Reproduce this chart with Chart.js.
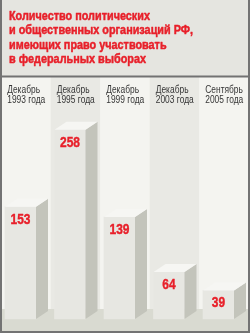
<!DOCTYPE html>
<html><head><meta charset="utf-8">
<script src="https://cdn.jsdelivr.net/npm/chart.js@4.4.0/dist/chart.umd.min.js"></script>
<style>html,body{margin:0;padding:0;background:#fff}#wrap{width:250px;height:333px;position:relative}canvas{display:block}</style>
</head><body><div id="wrap"><canvas id="c" width="250" height="333"></canvas></div>
<script>
const titleLines = ["Количество политических", "и общественных организаций РФ,", "имеющих право участвовать", "в федеральных выборах"];
const monthLabels = ["Декабрь", "Декабрь", "Декабрь", "Декабрь", "Сентябрь"];
const yearLabels = ["1993 года", "1995 года", "1999 года", "2003 года", "2005 года"];
const categories = ["Декабрь 1993 года", "Декабрь 1995 года", "Декабрь 1999 года", "Декабрь 2003 года", "Сентябрь 2005 года"];
const values = [153, 258, 139, 64, 39];

const FAMILY = '"Liberation Sans", Arial, sans-serif';
const RED = '#e8202a';
const DEPTH_X = 12, DEPTH_Y = 8;

function condensed(ctx, text, x, y, sx, align, strokeW) {
  ctx.save();
  const w = ctx.measureText(text).width * sx;
  let x0 = x;
  if (align === 'center') x0 = x - w / 2;
  ctx.textAlign = 'left';
  ctx.translate(x0, y);
  ctx.scale(sx, 1);
  ctx.fillText(text, 0, 0);
  if (strokeW) {
    ctx.strokeStyle = ctx.fillStyle;
    ctx.lineWidth = strokeW;
    ctx.lineJoin = 'round';
    ctx.strokeText(text, 0, 0);
  }
  ctx.restore();
}

const decor = {
  id: 'decor',
  beforeDatasetsDraw(chart) {
    const ctx = chart.ctx;
    const xs = chart.scales.x;
    const W = chart.width, H = chart.height;
    const base = chart.scales.y.getPixelForValue(0);
    ctx.save();
    ctx.fillStyle = '#f3f3ef';
    ctx.fillRect(0, 0, W, H);
    const step = xs.getPixelForValue(1) - xs.getPixelForValue(0);
    categories.forEach((c, i) => {
      const cx = xs.getPixelForValue(i) + 5.5;
      ctx.fillStyle = i % 2 ? '#e9e9e4' : '#f4f4f0';
      ctx.fillRect(cx - step / 2, 77, step, base - DEPTH_Y - 77 + 1);
    });
    ctx.fillStyle = '#d9dad1';
    ctx.fillRect(0, base - DEPTH_Y - 2, W, H - (base - DEPTH_Y - 2));
    ctx.fillStyle = '#e5e5e0';
    ctx.fillRect(0, 0, W, 76);
    ctx.fillStyle = '#727272';
    ctx.fillRect(0, 75.5, W, 2);
    ctx.restore();
  },
  afterDatasetsDraw(chart) {
    const ctx = chart.ctx;
    const xs = chart.scales.x;
    const W = chart.width, H = chart.height;
    const meta = chart.getDatasetMeta(0);
    ctx.save();
    ctx.textBaseline = 'alphabetic';
    ctx.font = 'bold 15px ' + FAMILY;
    const vScale = 20 / ctx.measureText('153').width;
    meta.data.forEach((bar, i) => {
      const p = bar.getProps(['x', 'y', 'base', 'width'], true);
      const l = p.x - p.width / 2, r = p.x + p.width / 2;
      ctx.fillStyle = '#c3c4bb';
      ctx.beginPath();
      ctx.moveTo(r, p.y);
      ctx.lineTo(r + DEPTH_X, p.y - DEPTH_Y);
      ctx.lineTo(r + DEPTH_X, p.base - DEPTH_Y);
      ctx.lineTo(r, p.base);
      ctx.closePath();
      ctx.fill();
      ctx.fillStyle = '#f6f6f3';
      ctx.beginPath();
      ctx.moveTo(l, p.y);
      ctx.lineTo(l + DEPTH_X, p.y - DEPTH_Y);
      ctx.lineTo(r + DEPTH_X, p.y - DEPTH_Y);
      ctx.lineTo(r, p.y);
      ctx.closePath();
      ctx.fill();
      ctx.fillStyle = RED;
      ctx.font = 'bold 15px ' + FAMILY;
      condensed(ctx, String(values[i]), p.x, p.y + 17, vScale, 'center', 0.4);
    });
    const step = xs.getPixelForValue(1) - xs.getPixelForValue(0);
    ctx.fillStyle = '#353535';
    ctx.font = '10px ' + FAMILY;
    const cScale = 38 / ctx.measureText('1993 года').width;
    categories.forEach((c, i) => {
      const left = xs.getPixelForValue(i) + 5.5 - step / 2 + 6;
      condensed(ctx, monthLabels[i], left, 92.5, cScale);
      condensed(ctx, yearLabels[i], left, 102.7, cScale);
    });
    ctx.fillStyle = RED;
    ctx.font = 'bold 13.5px ' + FAMILY;
    const hScale = 184 / ctx.measureText(titleLines[1]).width;
    titleLines.forEach((t, k) => condensed(ctx, t, 9, 19.5 + k * 14.6, hScale, 'left', 0.5));
    ctx.fillStyle = '#737373';
    ctx.fillRect(0, 0, 2, H);
    ctx.fillRect(W - 2, 0, 2, H);
    ctx.fillRect(0, H - 2, W, 2);
    ctx.restore();
  }
};

new Chart(document.getElementById('c'), {
  type: 'bar',
  data: {
    labels: categories,
    datasets: [{ data: values, backgroundColor: '#e7e7e2', borderWidth: 0, barThickness: 31, clip: false }]
  },
  options: {
    responsive: false,
    devicePixelRatio: 1,
    animation: false,
    layout: { padding: { left: 20.5, right: 31.5, top: 99, bottom: 14 } },
    plugins: { legend: { display: false }, tooltip: { enabled: false }, title: { display: false } },
    scales: {
      x: { type: 'category', offset: false, display: false },
      y: { min: 0, max: 300, display: false }
    }
  },
  plugins: [decor]
});
</script></body></html>
